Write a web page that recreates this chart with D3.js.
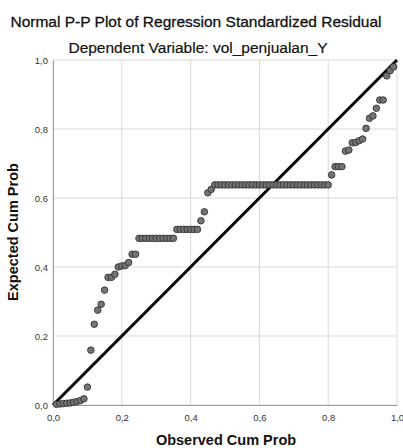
<!DOCTYPE html>
<html>
<head>
<meta charset="utf-8">
<script src="https://cdn.jsdelivr.net/npm/d3@7"></script>
<style>
	body { margin: 0; background: #fff; }
	text { font-family: "Liberation Sans", Arial, sans-serif; }
</style>
</head>
<body>
<svg id="chart" width="403" height="448"></svg>
<script>
const title = "Normal P-P Plot of Regression Standardized Residual";
const subtitle = "Dependent Variable: vol_penjualan_Y";
const xLabel = "Observed Cum Prob";
const yLabel = "Expected Cum Prob";
const tickValues = [0, 0.2, 0.4, 0.6, 0.8, 1.0];

// observed cum prob
const observed = [
	0.01, 0.02, 0.03, 0.04, 0.05, 0.06, 0.07, 0.08, 0.09, 0.10,
	0.11, 0.12, 0.13, 0.14, 0.15, 0.16, 0.17, 0.18, 0.19, 0.20,
	0.21, 0.22, 0.23, 0.24, 0.25, 0.26, 0.27, 0.28, 0.29, 0.30,
	0.31, 0.32, 0.33, 0.34, 0.35, 0.36, 0.37, 0.38, 0.39, 0.40,
	0.41, 0.42, 0.43, 0.44, 0.45, 0.46, 0.47, 0.48, 0.49, 0.50,
	0.51, 0.52, 0.53, 0.54, 0.55, 0.56, 0.57, 0.58, 0.59, 0.60,
	0.61, 0.62, 0.63, 0.64, 0.65, 0.66, 0.67, 0.68, 0.69, 0.70,
	0.71, 0.72, 0.73, 0.74, 0.75, 0.76, 0.77, 0.78, 0.79, 0.80,
	0.81, 0.82, 0.83, 0.84, 0.85, 0.86, 0.87, 0.88, 0.89, 0.90,
	0.91, 0.92, 0.93, 0.94, 0.95, 0.96, 0.97, 0.98, 0.99
];
// expected cum prob
const expected = [
	0.002, 0.003, 0.004, 0.005, 0.006, 0.008, 0.010, 0.013, 0.018, 0.052,
	0.159, 0.234, 0.275, 0.292, 0.333, 0.370, 0.370, 0.379, 0.400, 0.403,
	0.404, 0.413, 0.437, 0.437, 0.483, 0.483, 0.483, 0.483, 0.483, 0.483,
	0.483, 0.483, 0.483, 0.483, 0.483, 0.509, 0.509, 0.509, 0.509, 0.509,
	0.509, 0.509, 0.534, 0.560, 0.615, 0.625, 0.638, 0.638, 0.638, 0.638,
	0.638, 0.638, 0.638, 0.638, 0.638, 0.638, 0.638, 0.638, 0.638, 0.638,
	0.638, 0.638, 0.638, 0.638, 0.638, 0.638, 0.638, 0.638, 0.638, 0.638,
	0.638, 0.638, 0.638, 0.638, 0.638, 0.638, 0.638, 0.638, 0.638, 0.638,
	0.667, 0.691, 0.691, 0.691, 0.736, 0.739, 0.760, 0.761, 0.766, 0.771,
	0.802, 0.831, 0.838, 0.860, 0.884, 0.884, 0.954, 0.969, 0.980
];

const points = observed.map((d, i) => ({ x: d, y: expected[i] }));

const svg = d3.select("#chart");
const mLeft = 53, mRight = 397, mTop = 60, mBottom = 405;

const x = d3.scaleLinear().domain([0, 1]).range([mLeft, mRight]);
const y = d3.scaleLinear().domain([0, 1]).range([mBottom, mTop]);
const fmt = (d) => d3.format(".1f")(d).replace(".", ",");

// gridlines
svg.append("g")
	.selectAll("line")
	.data(tickValues)
	.join("line")
	.attr("x1", (d) => x(d))
	.attr("x2", (d) => x(d))
	.attr("y1", mTop)
	.attr("y2", mBottom)
	.attr("stroke", "#d9d9d9")
	.attr("stroke-width", 1);
svg.append("g")
	.selectAll("line")
	.data(tickValues)
	.join("line")
	.attr("x1", mLeft)
	.attr("x2", mRight)
	.attr("y1", (d) => y(d))
	.attr("y2", (d) => y(d))
	.attr("stroke", "#d9d9d9")
	.attr("stroke-width", 1);

// axes
const yAxis = svg.append("g")
	.attr("transform", `translate(${mLeft},0)`)
	.call(d3.axisLeft(y).tickValues(tickValues).tickFormat(fmt).tickSize(0).tickPadding(5));
const xAxis = svg.append("g")
	.attr("transform", `translate(0,${mBottom})`)
	.call(d3.axisBottom(x).tickValues(tickValues).tickFormat(fmt).tickSize(0).tickPadding(9));
[xAxis, yAxis].forEach((a) => {
	a.select(".domain").attr("stroke", "#9e9e9e");
	a.selectAll("text").attr("font-size", 9.5).attr("fill", "#333");
});

// reference line
svg.append("line")
	.attr("x1", x(0))
	.attr("y1", y(0))
	.attr("x2", x(1))
	.attr("y2", y(1))
	.attr("stroke", "#000")
	.attr("stroke-width", 3);

// points
svg.append("g")
	.selectAll("circle")
	.data(points)
	.join("circle")
	.attr("cx", (d) => x(d.x))
	.attr("cy", (d) => y(d.y))
	.attr("r", 3.3)
	.attr("fill", "#737373")
	.attr("stroke", "#2a2a2a")
	.attr("stroke-width", 0.8);

// titles
svg.append("text")
	.attr("x", 196)
	.attr("y", 27)
	.attr("text-anchor", "middle")
	.attr("font-size", 15.5)
	.attr("fill", "#111")
	.attr("stroke", "#111")
	.attr("stroke-width", 0.3)
	.text(title);
svg.append("text")
	.attr("x", 198)
	.attr("y", 53)
	.attr("text-anchor", "middle")
	.attr("font-size", 15.5)
	.attr("fill", "#111")
	.attr("stroke", "#111")
	.attr("stroke-width", 0.2)
	.text(subtitle);
svg.append("text")
	.attr("x", 226)
	.attr("y", 445)
	.attr("text-anchor", "middle")
	.attr("font-size", 14.5)
	.attr("font-weight", "bold")
	.attr("fill", "#111")
	.text(xLabel);
svg.append("text")
	.attr("transform", "translate(18,232) rotate(-90)")
	.attr("text-anchor", "middle")
	.attr("font-size", 14.5)
	.attr("font-weight", "bold")
	.attr("fill", "#111")
	.text(yLabel);
</script>
</body>
</html>
